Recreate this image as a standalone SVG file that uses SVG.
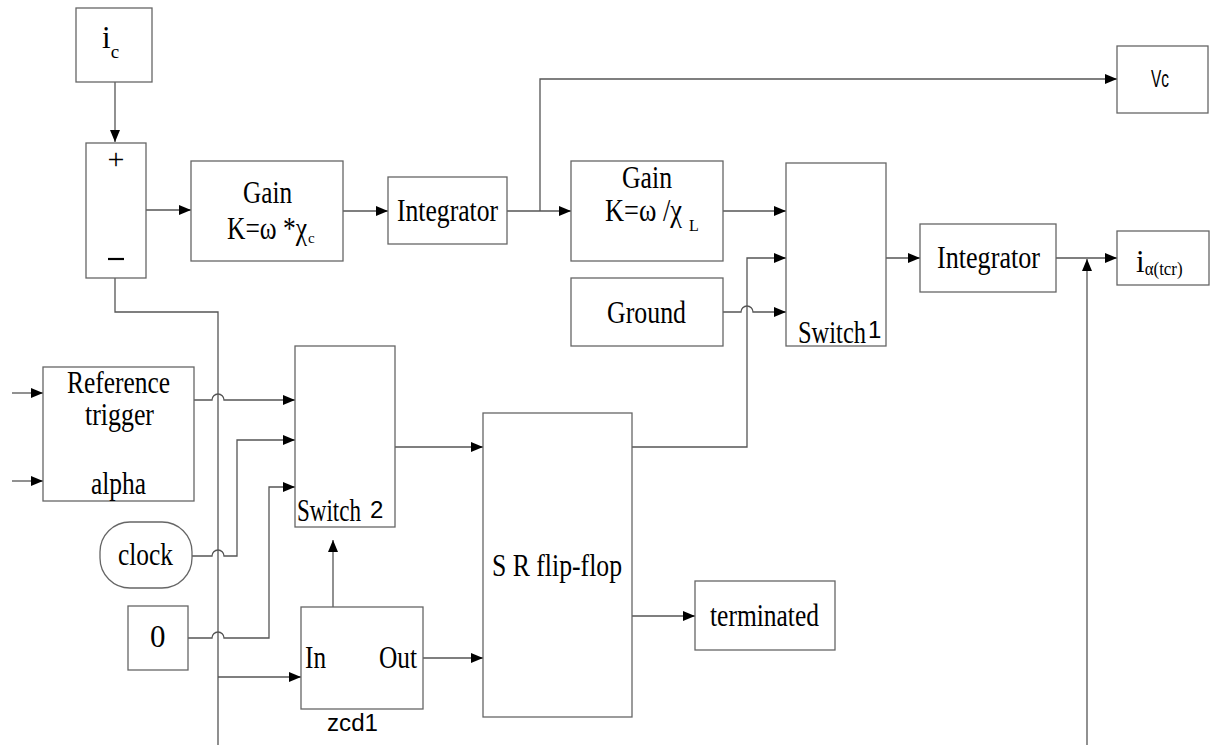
<svg xmlns="http://www.w3.org/2000/svg" width="1215" height="749" viewBox="0 0 1215 749">
<style>
.box{fill:#fff;stroke:#666;stroke-width:1.3}
.ln{fill:none;stroke:#555;stroke-width:1.3}
.t{font-family:"Liberation Serif","Times New Roman",serif;font-size:31px;fill:#000}
.s{font-family:"Liberation Sans",Arial,sans-serif;font-size:23px;fill:#000}
.sf{font-family:"Liberation Sans",Arial,sans-serif;font-size:24px}
</style>
<defs>
<marker id="ah" markerUnits="userSpaceOnUse" markerWidth="13" markerHeight="11" refX="12" refY="5" orient="auto">
<path d="M0,0 L12,5 L0,10 z" fill="#000"/>
</marker>
</defs>
<rect width="1215" height="749" fill="#fff"/>
<g id="connectors">
<path class="ln" d="M115,82 V142" marker-end="url(#ah)"/>
<path class="ln" d="M146,210 H191" marker-end="url(#ah)"/>
<path class="ln" d="M343,211 H388" marker-end="url(#ah)"/>
<path class="ln" d="M507,211 H571" marker-end="url(#ah)"/>
<path class="ln" d="M540,211 V79 H1117" marker-end="url(#ah)"/>
<path class="ln" d="M723,211 H786" marker-end="url(#ah)"/>
<path class="ln" d="M723,312 H741 A6,6 0 0,1 753,312 H786" marker-end="url(#ah)"/>
<path class="ln" d="M632,447 H747 V258 H786" marker-end="url(#ah)"/>
<path class="ln" d="M786,211 H832 L856,258 H920" marker-end="url(#ah)"/>
<path class="ln" d="M786,258 H820 M820,232 V278 M786,312 H822"/>
<path class="ln" d="M1056,258 H1117" marker-end="url(#ah)"/>
<path class="ln" d="M1087,745 V259" marker-end="url(#ah)"/>
<path class="ln" d="M115,278 V312 H218 V745"/>
<path class="ln" d="M12,393 H43" marker-end="url(#ah)"/>
<path class="ln" d="M12,481 H43" marker-end="url(#ah)"/>
<path class="ln" d="M194,400 H212 A6,6 0 0,1 224,400 H295" marker-end="url(#ah)"/>
<path class="ln" d="M295,400 H340 L364,447 H483" marker-end="url(#ah)"/>
<path class="ln" d="M295,440 H328 M328,413 V460 M295,487 H333"/>
<path class="ln" d="M192,556 H212 A6,6 0 0,1 224,556 H237 V440 H295" marker-end="url(#ah)"/>
<path class="ln" d="M188,638 H212 A6,6 0 0,1 224,638 H269 V487 H295" marker-end="url(#ah)"/>
<path class="ln" d="M218,677 H301" marker-end="url(#ah)"/>
<path class="ln" d="M333,607 V540" marker-end="url(#ah)"/>
<path class="ln" d="M423,658 H483" marker-end="url(#ah)"/>
<path class="ln" d="M632,616 H695" marker-end="url(#ah)"/>
</g>
<g id="ic">
<rect class="box" x="76" y="8" width="76" height="74"/>
<text class="t" x="102" y="48">i<tspan dy="10" style="font-size:19px">c</tspan></text>
</g>
<g id="sum">
<rect class="box" x="86" y="143" width="60" height="135"/>
<text class="t" x="116" y="169" text-anchor="middle" style="font-size:30px">+</text>
<path d="M108,259 H124" stroke="#000" stroke-width="2.2"/>
</g>
<g id="gain1">
<rect class="box" x="191" y="161" width="152" height="100"/>
<text class="t" x="243" y="203" textLength="49" lengthAdjust="spacingAndGlyphs">Gain</text>
<text class="t" x="227" y="239"><tspan textLength="80" lengthAdjust="spacingAndGlyphs">K=ω *χ</tspan><tspan dx="1" dy="4" style="font-size:15px">c</tspan></text>
</g>
<g id="integrator1">
<rect class="box" x="388" y="177" width="119" height="67"/>
<text class="t" x="397" y="221" textLength="101" lengthAdjust="spacingAndGlyphs">Integrator</text>
</g>
<g id="gain2">
<rect class="box" x="571" y="161" width="152" height="100"/>
<text class="t" x="622" y="188" textLength="50" lengthAdjust="spacingAndGlyphs">Gain</text>
<text class="t" x="605" y="221"><tspan textLength="77" lengthAdjust="spacingAndGlyphs">K=ω /χ</tspan><tspan dx="7" dy="10" style="font-size:16px">L</tspan></text>
</g>
<g id="vc">
<rect class="box" x="1117" y="46" width="91" height="67"/>
<text class="s" x="1151" y="87" textLength="18" lengthAdjust="spacingAndGlyphs" style="font-size:24px">Vc</text>
</g>
<g id="ground">
<rect class="box" x="571" y="278" width="152" height="68"/>
<text class="t" x="607" y="323" textLength="79" lengthAdjust="spacingAndGlyphs">Ground</text>
</g>
<g id="switch1">
<rect class="box" x="786" y="163" width="100" height="183"/>
<text class="t" x="798" y="343"><tspan textLength="68" lengthAdjust="spacingAndGlyphs">Switch</tspan><tspan class="sf" dx="2" dy="-5">1</tspan></text>
</g>
<g id="integrator2">
<rect class="box" x="920" y="224" width="136" height="68"/>
<text class="t" x="937" y="268" textLength="103" lengthAdjust="spacingAndGlyphs">Integrator</text>
</g>
<g id="ictcr">
<rect class="box" x="1117" y="231" width="92" height="54"/>
<text class="t" x="1136" y="272">i<tspan dy="3" style="font-size:19px" textLength="38" lengthAdjust="spacingAndGlyphs">α(tcr)</tspan></text>
</g>
<g id="reftrigger">
<rect class="box" x="43" y="367" width="151" height="134"/>
<text class="t" x="67" y="393" textLength="103" lengthAdjust="spacingAndGlyphs">Reference</text>
<text class="t" x="85" y="425" textLength="69" lengthAdjust="spacingAndGlyphs">trigger</text>
<text class="t" x="91" y="494" textLength="55" lengthAdjust="spacingAndGlyphs">alpha</text>
</g>
<g id="switch2">
<rect class="box" x="295" y="346" width="100" height="181"/>
<text class="t" x="297" y="521"><tspan textLength="64" lengthAdjust="spacingAndGlyphs">Switch</tspan><tspan class="sf" dx="9" dy="-3">2</tspan></text>
</g>
<g id="clock">
<rect class="box" x="100" y="522" width="92" height="66" rx="30" ry="30"/>
<text class="t" x="118" y="565" textLength="55" lengthAdjust="spacingAndGlyphs">clock</text>
</g>
<g id="zero">
<rect class="box" x="128" y="606" width="60" height="64"/>
<text class="t" x="150" y="647">0</text>
</g>
<g id="zcd1">
<rect class="box" x="301" y="607" width="122" height="102"/>
<text class="t" x="305" y="668" textLength="21" lengthAdjust="spacingAndGlyphs">In</text>
<text class="t" x="379" y="668" textLength="38" lengthAdjust="spacingAndGlyphs">Out</text>
<text class="s" x="327" y="731" textLength="51" lengthAdjust="spacingAndGlyphs">zcd1</text>
</g>
<g id="srflipflop">
<rect class="box" x="483" y="413" width="149" height="304"/>
<text class="t" x="492" y="576" textLength="130" lengthAdjust="spacingAndGlyphs">S R flip-flop</text>
</g>
<g id="terminated">
<rect class="box" x="695" y="581" width="140" height="69"/>
<text class="t" x="710" y="626" textLength="109" lengthAdjust="spacingAndGlyphs">terminated</text>
</g>
</svg>
